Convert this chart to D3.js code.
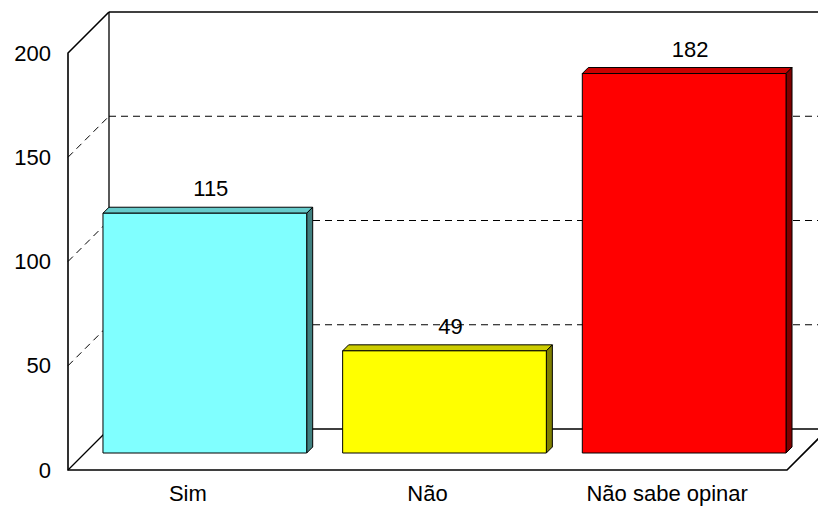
<!DOCTYPE html>
<html>
<head>
<meta charset="utf-8">
<script src="https://cdn.jsdelivr.net/npm/d3@7"></script>
<style>
  html, body { margin: 0; padding: 0; background: #fff; }
  svg { display: block; }
  text { font-family: "Liberation Sans", Arial, sans-serif; font-size: 22px; fill: #000; }
</style>
</head>
<body>
<svg id="chart" width="818" height="506"></svg>
<script>
// Survey answers
const categories = ["Sim", "Não", "Não sabe opinar"];
const values = [115, 49, 182];
const tickValues = [0, 50, 100, 150, 200];
const frontColors = ["#80FFFF", "#FFFF00", "#FF0000"];
const topColors = ["#66CCCC", "#CCCC00", "#CC0000"];
const sideColors = ["#408080", "#808000", "#800000"];

const svg = d3.select("#chart");

// Front plane of the 3D box
const x0 = 68, x1 = 787;
const y = d3.scaleLinear().domain([0, 200]).range([470, 53]);
const x = d3.scaleBand().domain(categories).range([x0, x1])
  .paddingInner(0.15).paddingOuter(0.075);

const depth = 41;      // depth of the box (diagonal offset)
const barZ = 17;       // depth at which the bars stand
const barD = 6;        // thickness of each bar

// project a front-plane point back by d
const P = (px, py, d) => [px + d, py - d];
const line = d3.line();

// dashed gridlines: left wall diagonal + back wall horizontal
const grid = svg.append("g").attr("fill", "none").attr("stroke", "#000")
  .attr("stroke-width", 1).attr("stroke-dasharray", "7,5");
tickValues.filter(v => v > 0 && v < 200).forEach(v => {
  grid.append("path").attr("d", line([P(x0, y(v), 0), P(x0, y(v), depth)]));
  grid.append("path").attr("d", line([P(x0, y(v), depth), P(x1, y(v), depth)]));
});

// walls and floor outline
const frame = svg.append("g").attr("fill", "none").attr("stroke", "#000");
const yMin = y(0), yMax = y(200);
frame.append("path").attr("stroke-width", 1.3)
  .attr("d", line([P(x0, yMax, depth), P(x1 + 60, yMax, depth)]));
frame.append("path").attr("stroke-width", 1.3)
  .attr("d", line([P(x0, yMax, depth), P(x0, yMin, depth), P(x1, yMin, depth)]));
frame.append("path").attr("stroke-width", 1.6)
  .attr("d", line([P(x0, yMax, depth), P(x0, yMax, 0), P(x0, yMin, 0), P(x1, yMin, 0), P(x1, yMin, depth)]));
frame.append("path").attr("stroke-width", 1.3)
  .attr("d", line([P(x0, yMin, 0), P(x0, yMin, depth)]));

// bars
const bars = svg.append("g").attr("stroke", "#000").attr("stroke-width", 1).attr("stroke-linejoin", "round");
categories.forEach((c, i) => {
  const bx = x(c), bw = x.bandwidth();
  const yt = y(values[i]), yb = y(0);
  const g = bars.append("g");
  // top face
  g.append("path").attr("fill", topColors[i]).attr("d", line([
    P(bx, yt, barZ), P(bx + bw, yt, barZ), P(bx + bw, yt, barZ + barD), P(bx, yt, barZ + barD)
  ]) + "Z");
  // right side face
  g.append("path").attr("fill", sideColors[i]).attr("d", line([
    P(bx + bw, yt, barZ), P(bx + bw, yt, barZ + barD), P(bx + bw, yb, barZ + barD), P(bx + bw, yb, barZ)
  ]) + "Z");
  // front face
  const [fx, fy] = P(bx, yt, barZ);
  g.append("rect").attr("fill", frontColors[i])
    .attr("x", fx).attr("y", fy).attr("width", bw).attr("height", yb - yt);
});

// value labels
svg.append("g").selectAll("text").data(categories).join("text")
  .attr("text-anchor", "middle")
  .attr("x", (c) => x(c) + x.bandwidth() / 2 + barZ + barD)
  .attr("y", (c, i) => y(values[i]) - barZ - barD - 11)
  .text((c, i) => values[i]);

// value axis labels
const yAxis = d3.axisLeft(y).tickValues(tickValues).tickSize(0).tickPadding(17);
const ya = svg.append("g").attr("transform", `translate(${x0},0)`).call(yAxis);
ya.select(".domain").remove();
ya.selectAll("text").attr("font-size", 22).attr("font-family", "Liberation Sans, Arial, sans-serif").attr("fill", "#000");

// category axis labels (centred on the front plane)
const xf = d3.scaleBand().domain(categories).range([x0, x1]);
const xAxis = d3.axisBottom(xf).tickSize(0).tickPadding(15);
const xa = svg.append("g").attr("transform", `translate(0,${yMin})`).call(xAxis);
xa.select(".domain").remove();
xa.selectAll("text").attr("font-size", 22).attr("font-family", "Liberation Sans, Arial, sans-serif").attr("fill", "#000");
</script>
</body>
</html>
